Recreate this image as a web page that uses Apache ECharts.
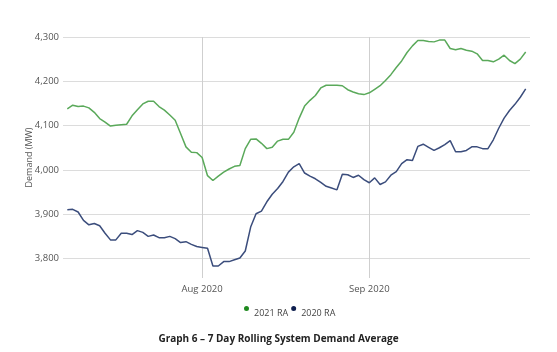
<!DOCTYPE html>
<html>
<head>
<meta charset="utf-8">
<script src="https://cdn.jsdelivr.net/npm/echarts@6/dist/echarts.min.js"></script>
<style>
  html, body { margin: 0; padding: 0; background: #fff; }
  #chart { width: 557px; height: 352px; }
</style>
</head>
<body>
<div id="chart"></div>
<script>
// 7 day rolling average, one point per day from 7 Jul to 30 Sep (index 0 = 7 Jul)
const ra2021 = [
  4138, 4146, 4143, 4144, 4140, 4130, 4116, 4108, 4099, 4101,
  4102, 4103, 4122, 4136, 4149, 4155, 4155, 4143, 4135, 4124,
  4112, 4082, 4052, 4040, 4039, 4028, 3987, 3976, 3986, 3995,
  4002, 4008, 4010, 4048, 4069, 4070, 4060, 4048, 4051, 4065,
  4069, 4069, 4085, 4117, 4144, 4157, 4168, 4185, 4191, 4191,
  4191, 4190, 4181, 4176, 4172, 4170, 4174, 4182, 4190, 4202,
  4215, 4231, 4246, 4265, 4280, 4292, 4292, 4290, 4289, 4293,
  4293, 4274, 4271, 4274, 4270, 4268, 4262, 4247, 4247, 4244,
  4250, 4259, 4247, 4240, 4250, 4266
];
const ra2020 = [
  3910, 3911, 3905, 3886, 3876, 3879, 3874, 3857, 3842, 3842,
  3857, 3857, 3854, 3863, 3859, 3850, 3853, 3847, 3847, 3850,
  3845, 3836, 3838, 3832, 3827, 3825, 3823, 3783, 3783, 3793,
  3793, 3797, 3801, 3817, 3871, 3901, 3907, 3928, 3945, 3958,
  3974, 3995, 4007, 4014, 3993, 3986, 3980, 3972, 3963, 3959,
  3955, 3990, 3989, 3983, 3988, 3978, 3971, 3982, 3967, 3973,
  3988, 3996, 4014, 4023, 4021, 4053, 4058, 4051, 4044, 4050,
  4057, 4066, 4041, 4041, 4044, 4052, 4052, 4048, 4048, 4068,
  4094, 4117, 4134, 4148, 4164, 4183
];

// month ticks on the day axis (1 Aug = day 25, 1 Sep = day 56)
const monthTicks = [25, 56];
const monthLabels = ['Aug 2020', 'Sep 2020'];
const yTicks = [3800, 3900, 4000, 4100, 4200, 4300];

const FONT = '"Open Sans", sans-serif';
// legend dot sits above the text middle, like a superscript
const DOT_ICON = 'path://M2.5,0A2.5,2.5,0,1,1,2.5,5A2.5,2.5,0,1,1,2.5,0ZM0,14L5,14L0,14Z';

const toPoints = arr => arr.map((v, i) => [i, v]);

const chart = echarts.init(document.getElementById('chart'), null, { renderer: 'canvas' });

chart.setOption({
  animation: false,
  textStyle: { fontFamily: FONT },
  title: {
    text: 'Graph 6 \u2013 7 Day Rolling System Demand Average',
    left: 'center',
    top: 329,
    textStyle: { fontSize: 10, fontWeight: 'bold', color: '#222', fontFamily: FONT }
  },
  legend: {
    left: 239,
    top: 301,
    icon: DOT_ICON,
    itemWidth: 5,
    itemHeight: 14,
    itemGap: 3,
    textStyle: { fontSize: 9, color: '#444' },
    data: [
      { name: '2021 RA', itemStyle: { color: '#1f8a1f' } },
      { name: '2020 RA', itemStyle: { color: '#0f1f4f' } }
    ]
  },
  grid: { left: 63, right: 27, top: 37, bottom: 74 },
  xAxis: {
    type: 'value',
    min: -0.8,
    max: 85.8,
    axisLine: { show: false },
    axisTick: { show: false, customValues: monthTicks },
    axisLabel: {
      customValues: monthTicks,
      margin: 6,
      fontSize: 9.5,
      color: '#555',
      formatter: v => monthLabels[monthTicks.indexOf(v)]
    },
    splitLine: { show: true, lineStyle: { color: '#cfcfcf', width: 1 } }
  },
  yAxis: {
    type: 'value',
    min: 3756,
    max: 4300,
    name: 'Demand (MW)',
    nameLocation: 'middle',
    nameGap: 29,
    nameMoveOverlap: false,
    nameTextStyle: { fontSize: 9, color: '#555' },
    axisLine: { show: false },
    axisTick: { show: false, customValues: yTicks },
    axisLabel: {
      customValues: yTicks,
      margin: 4,
      fontSize: 9.5,
      color: '#555',
      formatter: v => v.toLocaleString('en-US')
    },
    splitLine: { show: true, lineStyle: { color: '#dcdcdc', width: 1 } }
  },
  series: [
    {
      name: '2021 RA',
      type: 'line',
      data: toPoints(ra2021),
      showSymbol: false,
      symbol: 'none',
      itemStyle: { color: '#1f8a1f' },
      lineStyle: { color: '#5aa95a', width: 1.5 }
    },
    {
      name: '2020 RA',
      type: 'line',
      data: toPoints(ra2020),
      showSymbol: false,
      symbol: 'none',
      itemStyle: { color: '#0f1f4f' },
      lineStyle: { color: '#3b4d7c', width: 1.5 }
    }
  ]
});
</script>
</body>
</html>
